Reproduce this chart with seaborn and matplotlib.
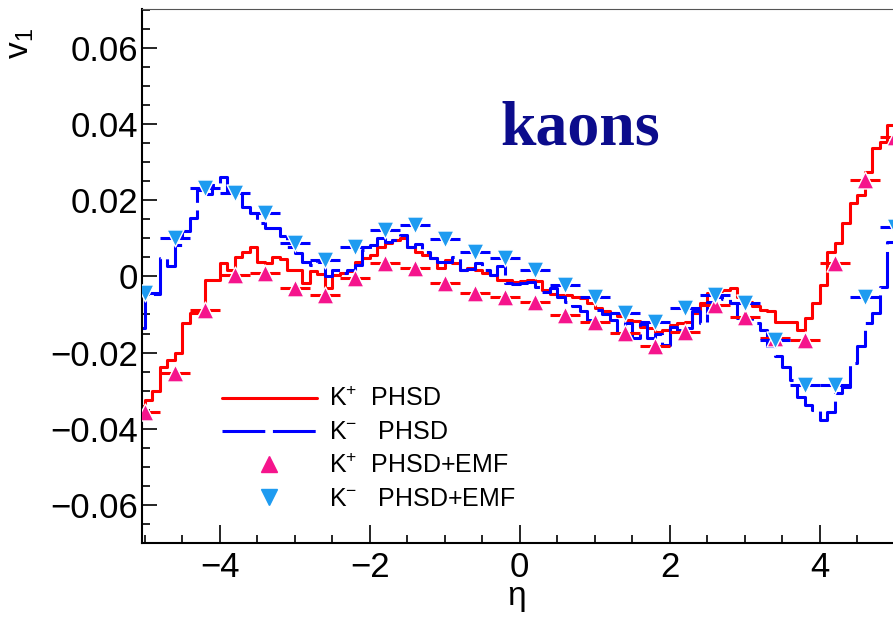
import numpy as np
import matplotlib
matplotlib.use("Agg")
import matplotlib.pyplot as plt
from matplotlib.lines import Line2D
from matplotlib.ticker import MultipleLocator
import seaborn as sns

# ---- data ----
# PHSD histograms, 0.1 wide bins starting at eta = -5.1
bin_lo = -5.1
bin_w = 0.1
kplus_phsd = [
    -0.0340, -0.0325, -0.0300, -0.0238, -0.0219, -0.0200, -0.0122, -0.0096, -0.0093, -0.0010,
    -0.0009, 0.0035, 0.0017, 0.0051, 0.0064, 0.0077, 0.0038, 0.0035, 0.0051, 0.0045,
    0.0017, 0.0017, -0.0017, 0.0013, 0.0005, -0.0030, 0.0004, 0.0008, 0.0013, 0.0039,
    0.0048, 0.0056, 0.0078, 0.0088, 0.0096, 0.0101, 0.0078, 0.0065, 0.0056, 0.0048,
    0.0022, 0.0043, 0.0035, 0.0017, 0.0022, 0.0017, 0.0009, 0.0004, -0.0009, -0.0009,
    -0.0016, -0.0012, -0.0009, -0.0012, -0.0035, -0.0045, -0.0049, -0.0050, -0.0053, -0.0057,
    -0.0070, -0.0083, -0.0090, -0.0096, -0.0105, -0.0114, -0.0118, -0.0132, -0.0136, -0.0145,
    -0.0140, -0.0127, -0.0123, -0.0119, -0.0096, -0.0070, -0.0043, -0.0039, -0.0035, -0.0030,
    -0.0055, -0.0066, -0.0079, -0.0088, -0.0090, -0.0119, -0.0119, -0.0121, -0.0140, -0.0110,
    -0.0070, -0.0022, 0.0065, 0.0088, 0.0140, 0.0193, 0.0214, 0.0275, 0.0337, 0.0354,
    0.0398,
]
kminus_phsd = [
    -0.0135, -0.0049, -0.0045, 0.0048, 0.0026, 0.0083, 0.0118, 0.0153, 0.0227, 0.0215,
    0.0240, 0.0262, 0.0225, 0.0235, 0.0183, 0.0166, 0.0140, 0.0127, 0.0127, 0.0105,
    0.0078, 0.0061, 0.0039, 0.0030, 0.0039, 0.0000, 0.0017, 0.0008, 0.0017, 0.0030,
    0.0070, 0.0083, 0.0101, 0.0090, 0.0096, 0.0109, 0.0078, 0.0085, 0.0065, 0.0048,
    0.0039, 0.0039, 0.0050, 0.0017, 0.0020, 0.0035, 0.0017, 0.0004, 0.0026, -0.0017,
    -0.0020, -0.0017, -0.0014, -0.0027, -0.0040, -0.0030, -0.0053, -0.0066, -0.0079, -0.0092,
    -0.0114, -0.0088, -0.0100, -0.0114, -0.0145, -0.0123, -0.0162, -0.0125, -0.0162, -0.0150,
    -0.0180, -0.0132, -0.0140, -0.0136, -0.0092, -0.0123, -0.0066, -0.0053, -0.0060, -0.0070,
    -0.0110, -0.0110, -0.0123, -0.0140, -0.0184, -0.0210, -0.0237, -0.0272, -0.0316, -0.0337,
    -0.0350, -0.0377, -0.0355, -0.0306, -0.0290, -0.0228, -0.0184, -0.0123, -0.0096, -0.0027,
    0.0090,
]

# PHSD+EMF points (0.4 wide bins)
eta_emf = [-5.0, -4.6, -4.2, -3.8, -3.4, -3.0, -2.6, -2.2, -1.8, -1.4, -1.0, -0.6, -0.2,
           0.2, 0.6, 1.0, 1.4, 1.8, 2.2, 2.6, 3.0, 3.4, 3.8, 4.2, 4.6, 5.0]
kplus_emf = [-0.0355, -0.0253, -0.0088, 0.0004, 0.0010, -0.0030, -0.0049, -0.0004, 0.0035,
             0.0022, -0.0017, -0.0043, -0.0053, -0.0066, -0.0101, -0.0119, -0.0149, -0.0184,
             -0.0145, -0.0075, -0.0106, -0.0162, -0.0167, 0.0035, 0.0253, 0.0367]
kminus_emf = [-0.0043, 0.0101, 0.0232, 0.0219, 0.0167, 0.0088, 0.0043, 0.0077, 0.0122,
              0.0135, 0.0098, 0.0065, 0.0049, 0.0017, -0.0022, -0.0053, -0.0096, -0.0119,
              -0.0083, -0.0049, -0.0070, -0.0167, -0.0285, -0.0285, -0.0053, 0.0130]
emf_half = 0.2

xtick_vals = [-4, -2, 0, 2, 4]
xtick_labels = ["\u22124", "\u22122", "0", "2", "4"]
ytick_vals = [-0.06, -0.04, -0.02, 0.0, 0.02, 0.04, 0.06]
ytick_labels = ["\u22120.06", "\u22120.04", "\u22120.02", "0", "0.02", "0.04", "0.06"]

labels = [r"K$^{+}$  PHSD", r"K$^{\mathrm{-}}$   PHSD", r"K$^{+}$  PHSD+EMF", r"K$^{\mathrm{-}}$   PHSD+EMF"]

# ---- style ----
sns.set_theme(style="ticks")
plt.rcParams["font.family"] = ["Liberation Sans", "DejaVu Sans"]
plt.rcParams["mathtext.fontset"] = "custom"
plt.rcParams["mathtext.rm"] = "Liberation Sans"
plt.rcParams["mathtext.it"] = "Liberation Sans"
plt.rcParams["text.color"] = "black"
plt.rcParams["axes.labelcolor"] = "black"
plt.rcParams["xtick.color"] = "black"
plt.rcParams["ytick.color"] = "black"

RED = "#ff0000"
BLUE = "#0000ff"
PINK = "#f5148c"
LBLUE = "#1e9bf0"

edges = np.round(bin_lo + bin_w * np.arange(len(kplus_phsd) + 1), 3)
# step outline: repeat last bin value at the right edge
kp_step = list(kplus_phsd) + [kplus_phsd[-1]]
km_step = list(kminus_phsd) + [kminus_phsd[-1]]

fig = plt.figure(figsize=(8.93, 6.17), dpi=100)
ax = fig.add_axes([142 / 893, 74 / 617, 758 / 893, 534 / 617])

# histograms
sns.lineplot(x=edges, y=kp_step, drawstyle="steps-post", estimator=None, sort=False,
             color=RED, linewidth=2.2, ax=ax)
sns.lineplot(x=edges, y=km_step, drawstyle="steps-post", estimator=None, sort=False,
             color=BLUE, linewidth=2.2, linestyle=(0, (14, 2.5)), ax=ax)

# EMF points with bin-width bars
ax.errorbar(eta_emf, kplus_emf, xerr=emf_half, fmt="none", ecolor=RED, elinewidth=2.2, capsize=0, zorder=4)
ax.errorbar(eta_emf, kminus_emf, xerr=emf_half, fmt="none", ecolor=BLUE, elinewidth=2.2, capsize=0, zorder=4)
sns.scatterplot(x=eta_emf, y=kplus_emf, marker="^", s=150, color=PINK, edgecolor="white",
                linewidth=1.0, zorder=6, ax=ax)
sns.scatterplot(x=eta_emf, y=kminus_emf, marker="v", s=150, color=LBLUE, edgecolor="white",
                linewidth=1.0, zorder=6, ax=ax)

ax.set_xlim(-5.036, 5.07)
ax.set_ylim(-0.070, 0.0702)

ax.set_xticks(xtick_vals)
ax.set_xticklabels(xtick_labels)
ax.set_yticks(ytick_vals)
ax.set_yticklabels(ytick_labels)
ax.xaxis.set_minor_locator(MultipleLocator(0.5))
ax.yaxis.set_minor_locator(MultipleLocator(0.005))
ax.tick_params(which="both", direction="in", top=False, right=False, color="black", labelcolor="black")
ax.tick_params(which="major", length=11, width=1.2, labelsize=25)
ax.tick_params(axis="x", which="major", length=13, pad=6)
ax.tick_params(axis="y", which="major", pad=3)
ax.tick_params(which="minor", length=6, width=1.2)

for s in ["left", "bottom"]:
    ax.spines[s].set_linewidth(1.5)
    ax.spines[s].set_color("black")
ax.spines["top"].set_linewidth(0.8)
ax.spines["top"].set_color("#555555")
ax.spines["right"].set_visible(False)

ax.set_ylabel(r"v$_1$", fontsize=24, loc="top")
ax.yaxis.set_label_coords(-0.14, 0.965)
ax.set_xlabel("\u03b7", fontsize=24)
ax.xaxis.set_label_coords(0.494, -0.072)

ax.text(0.578, 0.775, "kaons", transform=ax.transAxes, ha="center", va="center",
        fontsize=46, fontweight="bold", family="Liberation Serif", color="#0c0c8c")

handles = [
    Line2D([], [], color=RED, lw=2.2),
    Line2D([], [], color=BLUE, lw=2.2, linestyle=(0, (14, 2.5))),
    Line2D([], [], color=PINK, marker="^", linestyle="none", markersize=12),
    Line2D([], [], color=LBLUE, marker="v", linestyle="none", markersize=12),
]
ax.legend(handles, labels, loc="upper left", bbox_to_anchor=(0.105, 0.292), frameon=False,
          fontsize=18, handlelength=3.8, handletextpad=0.5, labelspacing=0.36,
          borderpad=0, borderaxespad=0)

fig.savefig("out.png", dpi=100)
